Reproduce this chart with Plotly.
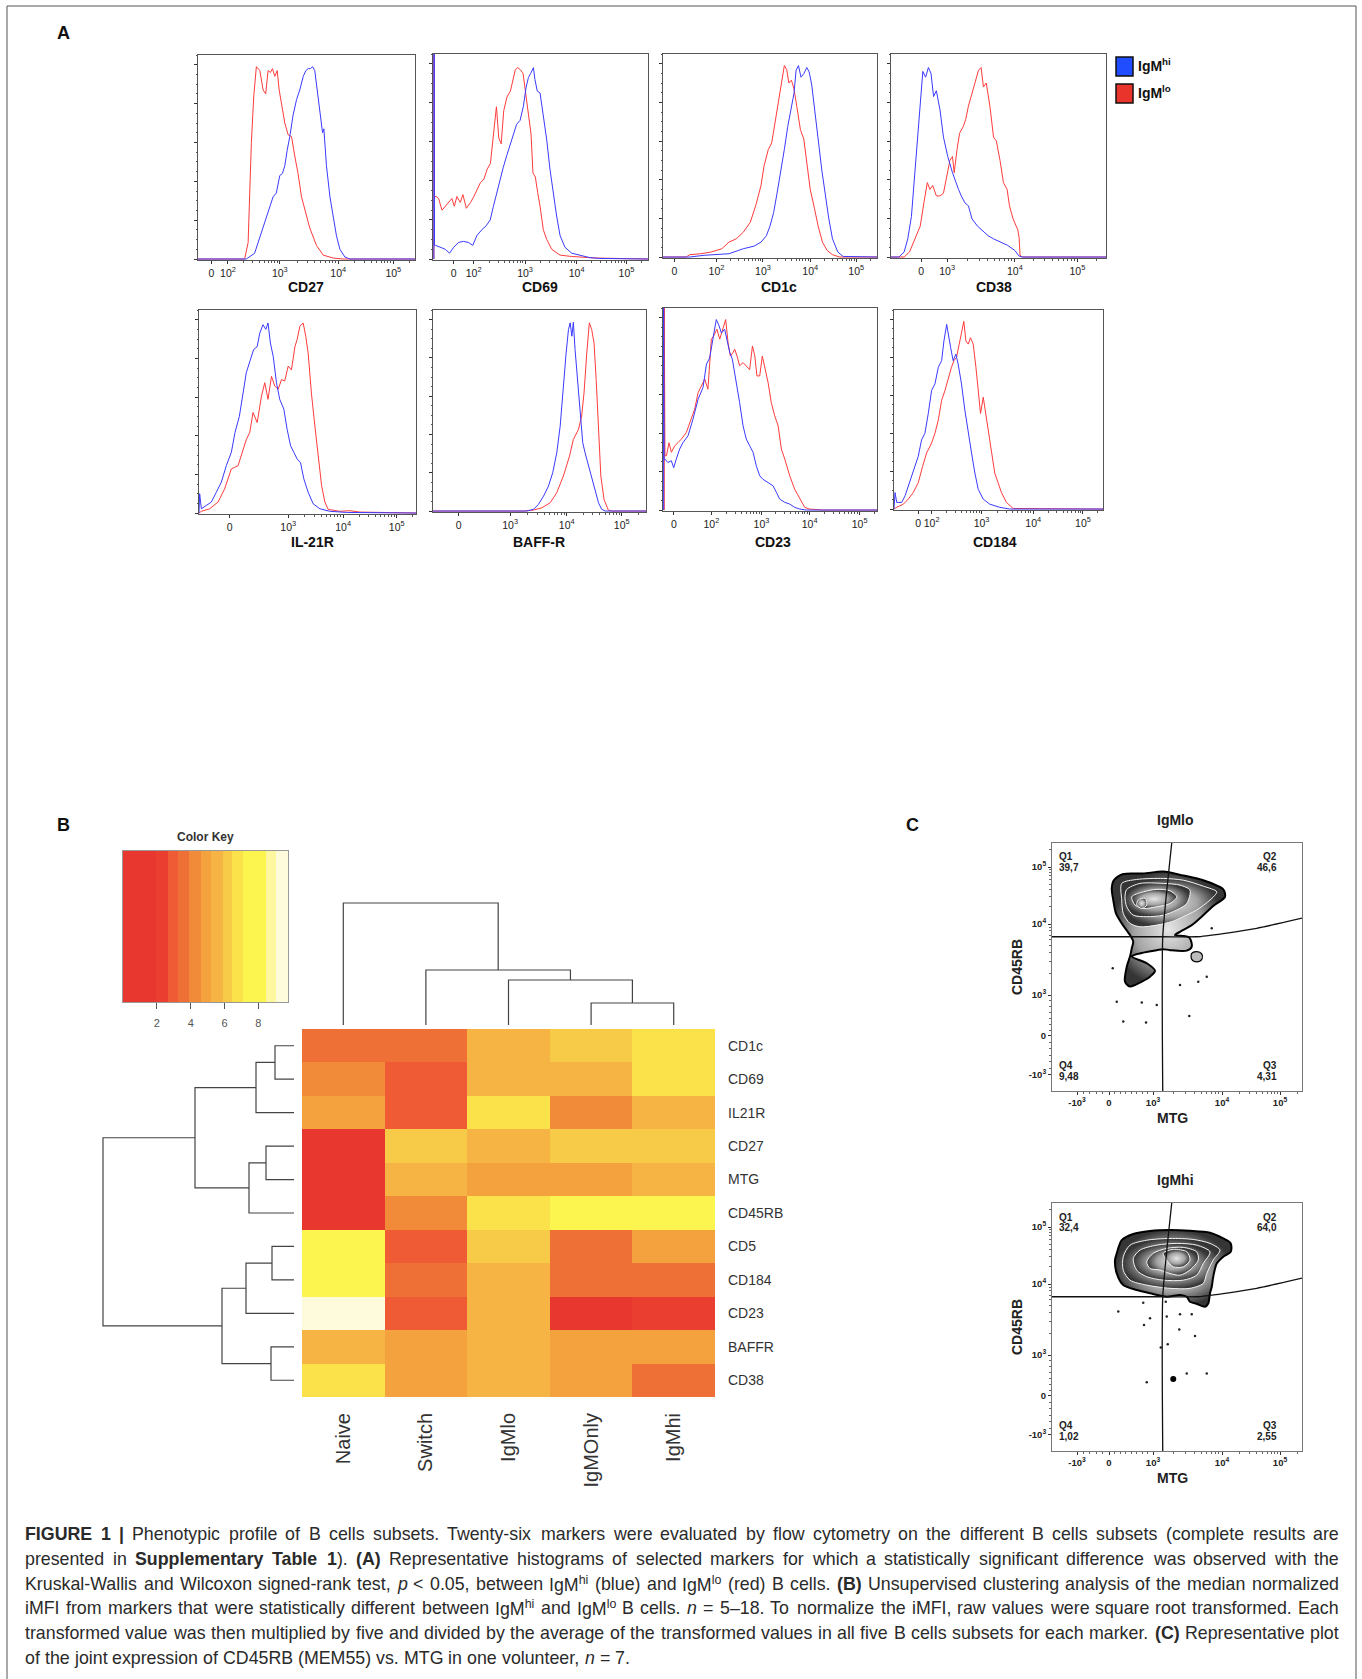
import math
import plotly.graph_objects as go

W, H = 1362, 1679
FONT = "Liberation Sans, Arial, sans-serif"
BLUE = "#3a3aff"
RED = "#ff3b3b"

# ---------------- Panel A: histogram data (x = display channel 0-1000, y = % of max) ----------------
cd27_lo = [(0,0),(215,0),(231,8.5),(246,60),(257,84),(269,99),(285,97),(300,87),(312,85),(323,97),(334,96),(343,98),(354,94),(365,97),(374,87),(385,80),(400,70),(415,64),(431,63),(446,53),(461,44),(477,32),(492,26),(515,16),(546,7),(577,2),(623,0.5),(669,0),(1000,0)]
cd27_hi = [(0,0),(223,0),(261,3),(292,14),(315,21),(331,27),(346,32),(361,34),(377,43),(389,44),(400,48),(411,56),(423,63),(438,74),(454,82),(469,87),(485,94),(497,97),(508,98),(518,98),(528,99),(538,97),(549,87),(561,75),(574,65),(580,67),(592,48),(608,32),(623,21),(638,12),(654,5),(677,1),(700,0),(1000,0)]
cd69_lo = [(4,0),(5,105),(7,32),(15,32),(26,31),(42,25),(57,27),(73,29),(88,31),(99,27),(111,32),(127,29),(139,33),(155,26),(175,29),(190,32),(206,36),(220,39),(237,41),(252,46),(267,49),(283,64),(295,78),(306,62),(317,59),(329,76),(344,83),(360,86),(372,91),(383,97),(394,98),(406,97),(419,95),(429,86),(444,73),(456,64),(465,44),(476,42),(487,34),(498,27),(513,15),(529,10),(552,5),(591,2),(645,1.3),(683,1),(761,0.5),(1000,0)]
cd69_hi = [(4,0),(5,105),(7,7),(12,7),(34,6),(57,5),(77,3),(96,6),(119,8.5),(142,9),(165,8.5),(185,7),(204,12),(227,15),(247,17),(266,20),(281,27),(297,34),(312,42),(327,47),(343,53),(358,58),(374,64),(389,69),(405,71),(420,78),(433,88),(444,93),(454,95),(467,98),(474,92),(485,86),(498,85),(513,73),(529,61),(544,46),(559,34),(575,22),(591,12),(614,6),(645,3),(683,2),(730,0.7),(776,0.3),(1000,0)]
cd1c_lo = [(0,0),(108,0),(125,1.2),(175,1.7),(225,2.6),(275,4.3),(308,7.7),(342,9.4),(375,12.8),(408,18),(433,26.5),(458,37),(472,47),(492,55.6),(508,59),(525,71),(542,83),(555,93),(567,99),(578,97),(588,90),(600,91.5),(612,87),(625,78),(642,66),(658,61),(672,49),(688,35),(708,25),(725,16),(745,7.7),(767,3.4),(792,1.2),(825,0),(1000,0)]
cd1c_hi = [(0,0),(125,0),(192,0.9),(308,1.7),(375,4.3),(425,5.6),(458,7.7),(483,11),(500,16),(517,23),(533,33),(550,43.6),(567,55.6),(583,67.5),(600,78),(612,84.6),(622,96.6),(633,99),(645,93),(658,94.8),(672,98),(683,95.7),(695,89),(708,78),(725,61),(742,45),(758,31.6),(775,19.7),(792,9.4),(817,2.6),(842,0.3),(1000,0)]
cd38_lo = [(0,0),(61,0),(86,2.6),(111,9.4),(136,16),(153,28),(169,38.5),(181,35),(194,37),(211,31.6),(228,31.6),(244,33),(261,43.6),(274,50),(286,52),(294,43.6),(307,55.6),(319,64),(336,67.5),(347,71),(360,78),(377,84.6),(394,91.5),(407,96.6),(419,98),(430,88),(443,90),(460,78),(477,62),(490,60),(507,50),(523,38.5),(540,35),(551,26.5),(568,19.7),(580,17),(590,14),(596,10),(600,1),(610,0),(1000,0)]
cd38_hi = [(0,0),(37,0),(61,2.6),(78,9.4),(95,21),(111,43.6),(125,67.5),(136,83),(148,96),(161,93),(174,98),(186,95),(198,83),(211,86),(228,76),(244,62),(264,52),(286,43.6),(297,40),(314,35),(327,31.6),(344,28),(360,26.5),(377,19.7),(402,16),(427,13.7),(452,11),(477,9.4),(510,7.7),(543,6),(576,3.4),(596,0.5),(610,0),(1000,0)]
il21r_lo = [(0,0),(11,0.9),(49,2.2),(88,5.7),(118,12.5),(149,22.8),(180,24.5),(195,29.7),(218,38),(234,41.7),(249,52),(268,46.8),(288,60.5),(303,67.4),(318,58.8),(334,70.7),(349,65.7),(365,64),(380,69),(395,68.3),(411,76),(426,74),(442,86),(452,89.7),(465,96.6),(480,98.3),(492,91.4),(503,82.8),(518,62),(534,45),(549,29.7),(565,14.2),(580,5.7),(595,1.9),(649,0.9),(695,1.2),(742,0.5),(1000,0)]
il21r_hi = [(0,0),(3,10),(11,2.2),(34,4),(57,5.7),(80,10.8),(103,16),(126,24.5),(149,31.4),(166,41.7),(186,50),(203,62),(218,72.6),(236,79),(252,84.6),(268,86),(280,93),(295,97.4),(308,95),(318,98.3),(329,88),(342,81),(357,67.4),(372,58.8),(391,53.7),(406,43.4),(422,34.8),(437,31.4),(452,28),(468,26),(483,17.7),(503,10.8),(526,4.8),(557,2.2),(603,0.9),(680,0.3),(1000,0)]
baffr_lo = [(0,0),(425,0),(472,0.5),(511,1.7),(550,4.3),(581,9.6),(612,18.3),(641,28.7),(659,37.4),(683,42.6),(698,49.6),(709,61.7),(722,82.6),(734,98.3),(745,94.8),(756,87.8),(766,68.7),(777,40.9),(788,18.3),(803,6),(823,0.5),(839,0),(1000,0)]
baffr_hi = [(0,0),(441,0),(472,0.9),(495,3.5),(519,7.8),(542,13),(562,20),(581,30.4),(597,44.3),(612,67),(625,82.6),(636,94.8),(644,98.3),(652,91.3),(659,98.6),(667,84.3),(678,68.7),(691,53),(703,35.7),(714,30.4),(730,23.5),(745,18.3),(761,11.3),(777,4.3),(792,0.9),(808,0),(1000,0)]
cd23_lo = [(6,0),(6,105),(9,28.2),(16,28.2),(28,35),(39,30),(55,33.4),(70,35),(86,36.9),(109,40.3),(125,45.5),(148,52.4),(164,61),(179,64.5),(195,68),(210,62.8),(226,88.8),(237,90.5),(252,94),(265,88.8),(280,94),(293,99),(304,87),(315,80),(327,81.8),(335,83.6),(346,80),(358,75),(374,76.6),(389,75),(405,73),(418,85.3),(429,80),(439,69.7),(452,69.7),(464,80),(475,75),(491,66.3),(506,55.9),(522,49),(538,43.8),(553,31.7),(569,26.5),(592,17.8),(615,10.9),(639,5.7),(662,1.4),(685,0.5),(717,0.3),(748,0),(1000,0)]
cd23_hi = [(3,0),(3,105),(5,26.5),(9,26.5),(23,24.7),(39,25.6),(50,22),(62,26.5),(78,31.7),(93,35),(117,38.6),(140,47.2),(164,57.6),(187,63.7),(203,75.8),(218,79),(237,90.5),(249,99),(262,95.7),(273,92),(288,94),(299,88.8),(312,81.8),(324,78.4),(343,66.3),(358,55.9),(374,43.8),(389,36.9),(405,33.4),(421,30),(436,23),(452,17.8),(467,16),(491,14.4),(514,12.6),(530,9.2),(545,5.7),(569,4),(592,3.1),(615,1.4),(639,0.5),(670,0),(1000,0)]
cd184_lo = [(0,0),(13,0.9),(45,2.6),(68,5.2),(92,8.7),(116,13.9),(137,22.6),(156,29.6),(180,34.8),(196,40),(212,47),(228,57.4),(244,62.6),(260,69.6),(275,74.8),(287,78.3),(299,80),(312,87),(323,92.2),(334,99),(344,88.7),(355,87),(366,90.4),(379,87),(392,74.8),(403,60.9),(414,50.4),(427,59),(439,50.4),(451,40),(467,29.6),(482,19),(498,13.9),(514,8.7),(538,3.5),(570,0.3),(1000,0)]
cd184_hi = [(0,0),(5,8.7),(13,3.5),(37,3.5),(53,7),(68,12.2),(84,17.4),(100,22.6),(116,27.8),(132,36.5),(148,40),(164,50.4),(180,62.6),(196,66),(212,74.8),(228,78.3),(239,88.7),(252,97.4),(259,92.2),(271,85.2),(283,78.3),(296,81.7),(307,76.5),(323,66),(339,52.2),(355,40),(371,29.6),(387,19),(403,10.4),(427,5.2),(458,2.6),(506,0.9),(554,0),(1000,0)]

hist_markers = ["CD27", "CD69", "CD1c", "CD38", "IL-21R", "BAFF-R", "CD23", "CD184"]
hist_tick_ch = [[62,138,377,646,900],[96,189,428,668,900],[53,250,467,688,903],[140,261,576,867],
                [141,411,664,911],[120,362,628,886],[51,226,460,685,919],[116,180,419,666,904]]
hist_tick_lab = [["0","2","3","4","5"],["0","2","3","4","5"],["0","2","3","4","5"],["0","3","4","5"],
                 ["0","3","4","5"],["0","3","4","5"],["0","2","3","4","5"],["0","2","3","4","5"]]
hist_series = [(cd27_hi, cd27_lo), (cd69_hi, cd69_lo), (cd1c_hi, cd1c_lo), (cd38_hi, cd38_lo),
               (il21r_hi, il21r_lo), (baffr_hi, baffr_lo), (cd23_hi, cd23_lo), (cd184_hi, cd184_lo)]

# ---------------- Panel B: heatmap ----------------
subsets = ["Naive", "Switch", "IgMlo", "IgMOnly", "IgMhi"]
markers_b = ["CD1c", "CD69", "IL21R", "CD27", "MTG", "CD45RB", "CD5", "CD184", "CD23", "BAFFR", "CD38"]
row_CD1c   = [3.6, 3.6, 5.5, 6.2, 6.8]
row_CD69   = [4.3, 2.9, 5.5, 5.5, 6.8]
row_IL21R  = [4.9, 2.9, 6.8, 4.3, 5.5]
row_CD27   = [1.0, 6.2, 5.5, 6.2, 6.2]
row_MTG    = [1.0, 5.5, 4.9, 4.9, 5.5]
row_CD45RB = [1.0, 4.3, 6.8, 7.8, 7.8]
row_CD5    = [7.8, 2.9, 6.2, 3.6, 4.9]
row_CD184  = [7.8, 3.6, 5.5, 3.6, 3.6]
row_CD23   = [9.4, 2.9, 5.5, 1.0, 2.3]
row_BAFFR  = [5.5, 4.9, 5.5, 4.9, 4.9]
row_CD38   = [6.8, 4.9, 5.5, 4.9, 3.6]
key_breaks = [0, 1.96, 2.65, 3.24, 3.92, 4.6, 5.2, 5.88, 6.47, 7.1, 8.43, 9.06, 9.75]
key_colors = ["#E8372F", "#EA3F30", "#EE5B34", "#EF7037", "#F18A39", "#F3A23D",
              "#F5B443", "#F7CA47", "#FBE24A", "#FCF550", "#FDF7A0", "#FEFBDC"]
key_ticks = [2, 4, 6, 8]
row_merges = [(0,1,19),(11,2,38),(3,4,28),(13,5,45),(12,14,99),(6,7,22),(16,8,48),(9,10,23),(17,18,72),(15,19,191)]
col_merges = [(3,4,22),(2,5,45),(1,6,55),(0,7,122)]

# ---------------- Panel C: CD45RB vs MTG (channel units 0-1000) ----------------
c_xtick_ch = [100, 228, 404, 680, 912]
c_xtick_lab = ["-10<sup>3</sup>", "0", "10<sup>3</sup>", "10<sup>4</sup>", "10<sup>5</sup>"]
c_ytick_ch = [65, 222, 387, 673, 903]
c_ytick_lab = ["-10<sup>3</sup>", "0", "10<sup>3</sup>", "10<sup>4</sup>", "10<sup>5</sup>"]
gate_vertical = [(443,0),(443,622),(479,1000)]
gate_horizontal = [(0,622),(443,622),(579,622),(685,635),(819,656),(1000,697)]
lo_quadrants = ["39,7", "46,6", "4,31", "9,48"]
hi_quadrants = ["32,4", "64,0", "2,55", "1,02"]
lo_levels = [
    [(248,850),(285,875),(365,877),(445,885),(525,869),(605,850),(685,813),(692,783),(645,746),(605,709),(559,669),(512,642),(492,629),(549,619),(559,582),(539,566),(472,568),(445,572),(419,568),(365,558),(339,552),(319,542),(379,515),(412,485),(392,461),(359,441),(312,421),(292,441),(299,501),(312,542),(319,575),(325,602),(312,629),(279,676),(256,716),(245,770),(239,817)],
    [(279,837),(339,853),(445,857),(525,850),(605,826),(659,803),(632,770),(579,730),(525,703),(479,683),(419,669),(352,662),(312,676),(285,716),(279,770)],
    [(299,813),(352,837),(445,837),(512,830),(552,810),(539,756),(499,730),(445,709),(379,703),(325,709),(299,743),(292,783)],
    [(319,783),(365,803),(419,813),(472,807),(499,783),(472,756),(419,743),(365,736),(332,750)],
    [(345,770),(372,777),(379,750),(359,736),(339,750)],
]
lo_small_blob = [(559,555),(579,562),(599,553),(599,531),(579,521),(559,531)]
lo_dots_x = [243,259,359,419,285,376,512,549,585,619,639]
lo_dots_y = [495,360,357,347,280,276,427,302,441,461,656]
hi_levels = [
    [(259,797),(279,850),(325,875),(392,887),(472,891),(552,888),(632,880),(685,857),(715,837),(715,803),(685,783),(659,756),(645,703),(639,662),(632,636),(625,595),(612,582),(579,593),(552,602),(539,622),(512,629),(459,622),(392,636),(339,649),(285,669),(259,716),(252,770)],
    [(285,783),(312,830),(379,850),(472,857),(565,853),(632,837),(672,810),(645,770),(619,716),(605,676),(552,656),(472,656),(379,669),(312,689),(285,729)],
    [(325,776),(352,810),(419,830),(499,837),(579,830),(632,803),(605,756),(579,709),(525,689),(445,689),(379,703),(339,729)],
    [(379,763),(405,797),(459,817),(525,821),(579,803),(585,770),(552,730),(512,709),(472,716),(432,730),(392,736)],
    [(445,797),(485,813),(539,803),(552,770),(525,743),(485,743),(459,770)],
]
hi_dots_x = [365,265,392,368,455,459,512,559,509,572,435,463,539,619,379]
hi_dots_y = [598,562,535,508,602,542,551,551,490,464,417,430,313,313,277]
hi_big_dot = (485, 290)

# ---------------- caption (one token list per printed line) ----------------
caption_lines = [
    "<b>FIGURE</b> <b>1</b> <b>|</b> Phenotypic profile of B cells subsets. Twenty-six markers were evaluated by flow cytometry on the different B cells subsets (complete results are",
    "presented in <b>Supplementary</b> <b>Table</b> <b>1</b>). <b>(A)</b> Representative histograms of selected markers for which a statistically significant difference was observed with the",
    "Kruskal-Wallis and Wilcoxon signed-rank test, <i>p</i> &lt; 0.05, between IgM<sup>hi</sup> (blue) and IgM<sup>lo</sup> (red) B cells. <b>(B)</b> Unsupervised clustering analysis of the median normalized",
    "iMFI from markers that were statistically different between IgM<sup>hi</sup> and IgM<sup>lo</sup> B cells. <i>n</i> = 5–18. To normalize the iMFI, raw values were square root transformed. Each",
    "transformed value was then multiplied by five and divided by the average of the transformed values in all five B cells subsets for each marker. <b>(C)</b> Representative plot",
    "of the joint expression of CD45RB (MEM55) vs. MTG in one volunteer, <i>n</i> = 7.",
]

# ============================ build ============================
fig = go.Figure()
layout = {}
annots = []
shapes = []
count = [0]


def new_axes(x0, y0, x1, y1, xkw, ykw):
    count[0] += 1
    n = count[0]
    s = "" if n == 1 else str(n)
    layout["xaxis" + s] = dict(domain=[x0 / W, x1 / W], anchor="y" + s, **xkw)
    layout["yaxis" + s] = dict(domain=[1 - y1 / H, 1 - y0 / H], anchor="x" + s, **ykw)
    return "x" + s, "y" + s


def text(x, y, s, size, bold=False, xanchor="center", yanchor="middle", color="#222", angle=0, pad=1):
    annots.append(dict(x=x / W, y=1 - y / H, xref="paper", yref="paper",
                       text=("<b>%s</b>" % s) if bold else s, showarrow=False,
                       xanchor=xanchor, yanchor=yanchor, textangle=angle, borderpad=pad,
                       font=dict(size=size, color=color, family=FONT)))


def log_minors(majors):
    out = []
    for a, b in zip(majors[:-1], majors[1:]):
        for k in range(2, 10):
            out.append(a + (b - a) * math.log10(k))
    d = majors[-1] - majors[-2]
    out.append(majors[-1] + d * math.log10(2))
    return out


# ---- Panel A ----
hist_boxes = [(198, 55, 415, 260), (433, 54, 648, 260), (663, 54, 877, 258), (891, 54, 1106, 258),
              (199, 310, 416, 514), (433, 310, 646, 512), (663, 308, 877, 511), (894, 310, 1103, 510)]
hist_label_x = [306, 540, 779, 994, 312, 539, 773, 995]
for i, name in enumerate(hist_markers):
    x0, y0, x1, y1 = hist_boxes[i]
    ticks = hist_tick_ch[i]
    labs = [("10<sup>%s</sup>" % l) if l != "0" else "0" for l in hist_tick_lab[i]]
    decade_ticks = [t for t, l in zip(ticks, hist_tick_lab[i]) if l != "0"]
    xkw = dict(range=[0, 1000], tickmode="array", tickvals=ticks, ticktext=labs,
               ticks="outside", ticklen=3, tickcolor="#333",
               tickfont=dict(size=10.5, color="#222", family=FONT),
               showline=True, linecolor="#555", linewidth=1, mirror=True,
               showgrid=False, zeroline=False, layer="below traces",
               minor=dict(tickmode="array", tickvals=log_minors(decade_ticks), ticks="outside",
                          ticklen=2, tickcolor="#555"))
    ykw = dict(range=[-0.5, 105], tickmode="array", tickvals=[0, 20, 40, 60, 80, 100],
               showticklabels=False, ticks="outside", ticklen=3, tickcolor="#333",
               showline=True, linecolor="#555", linewidth=1, mirror=True,
               showgrid=False, zeroline=False, layer="below traces",
               minor=dict(tickmode="linear", tick0=0, dtick=5, ticks="outside", ticklen=1.5,
                          tickcolor="#555"))
    xa, ya = new_axes(x0, y0, x1, y1, xkw, ykw)
    hi, lo = hist_series[i]
    fig.add_trace(go.Scatter(x=[p[0] for p in lo], y=[p[1] for p in lo], mode="lines",
                             line=dict(color=RED, width=1), xaxis=xa, yaxis=ya, hoverinfo="skip"))
    fig.add_trace(go.Scatter(x=[p[0] for p in hi], y=[p[1] for p in hi], mode="lines",
                             line=dict(color=BLUE, width=1), xaxis=xa, yaxis=ya, hoverinfo="skip"))
    ylab = 287 if i < 4 else 542
    text(hist_label_x[i], ylab, name, 14, bold=True, color="#111")

shapes.append(dict(type="rect", xref="paper", yref="paper", x0=1116 / W, x1=1133 / W,
                   y0=1 - 76 / H, y1=1 - 57 / H, fillcolor="#1f4dff", line=dict(color="#111", width=1.5)))
shapes.append(dict(type="rect", xref="paper", yref="paper", x0=1116 / W, x1=1133 / W,
                   y0=1 - 103 / H, y1=1 - 84 / H, fillcolor="#e8342a", line=dict(color="#111", width=1.5)))
text(1136, 65, "IgM<sup>hi</sup>", 14, bold=True, xanchor="left", color="#111")
text(1136, 92, "IgM<sup>lo</sup>", 14, bold=True, xanchor="left", color="#111")

# ---- Panel B ----
zmax = key_breaks[-1]
cscale = []
for j, c in enumerate(key_colors):
    cscale.append([key_breaks[j] / zmax, c])
    cscale.append([key_breaks[j + 1] / zmax, c])

key_mid = [(a + b) / 2 for a, b in zip(key_breaks[:-1], key_breaks[1:])]
xa, ya = new_axes(123, 851, 288, 1002,
                  dict(range=[0, zmax], tickmode="array", tickvals=key_ticks, ticks="outside",
                       ticklen=6, tickcolor="#555", tickfont=dict(size=11, color="#555", family=FONT),
                       ticklabelstandoff=5,
                       showline=True, linecolor="#999", mirror=True, showgrid=False, zeroline=False),
                  dict(range=[-0.5, 0.5], showticklabels=False, ticks="", showline=True,
                       linecolor="#999", mirror=True, showgrid=False, zeroline=False))
fig.add_trace(go.Heatmap(z=[key_mid], x=key_breaks, y=[0], colorscale=cscale, zmin=0, zmax=zmax,
                         showscale=False, xaxis=xa, yaxis=ya, hoverinfo="skip"))
text(205, 837, "Color Key", 12, bold=True, color="#333")

heat_rows = [row_CD1c, row_CD69, row_IL21R, row_CD27, row_MTG, row_CD45RB, row_CD5, row_CD184,
             row_CD23, row_BAFFR, row_CD38]
xa, ya = new_axes(302, 1029, 715, 1397,
                  dict(type="category", ticks="", tickangle=-90, showline=False, showgrid=False,
                       zeroline=False, tickfont=dict(size=20, color="#333", family=FONT),
                       ticklabelstandoff=11),
                  dict(type="category", autorange="reversed", side="right", ticks="", showline=False,
                       showgrid=False, zeroline=False, tickfont=dict(size=14, color="#333", family=FONT),
                       ticklabelstandoff=12))
fig.add_trace(go.Heatmap(z=heat_rows, x=subsets, y=markers_b, colorscale=cscale, zmin=0, zmax=zmax,
                         showscale=False, xaxis=xa, yaxis=ya, hoverinfo="skip"))


def dendro(merges, n):
    pos = {i: float(i) for i in range(n)}
    hgt = {i: 0.0 for i in range(n)}
    ps, hs = [], []
    for k, (a, b, h) in enumerate(merges):
        ps += [pos[a], pos[a], pos[b], pos[b], None]
        hs += [hgt[a], h, h, hgt[b], None]
        pos[n + k] = (pos[a] + pos[b]) / 2
        hgt[n + k] = h
    return ps, hs


hidden = dict(visible=False, showgrid=False, zeroline=False)
xa, ya = new_axes(98, 1029, 294, 1397, dict(range=[196, 0], **hidden), dict(range=[10.5, -0.5], **hidden))
ps, hs = dendro(row_merges, len(markers_b))
fig.add_trace(go.Scatter(x=hs, y=ps, mode="lines", line=dict(color="#444", width=1.2),
                         xaxis=xa, yaxis=ya, hoverinfo="skip"))
xa, ya = new_axes(302, 900, 715, 1025, dict(range=[-0.5, 4.5], **hidden), dict(range=[0, 125], **hidden))
ps, hs = dendro(col_merges, len(subsets))
fig.add_trace(go.Scatter(x=ps, y=hs, mode="lines", line=dict(color="#444", width=1.2),
                         xaxis=xa, yaxis=ya, hoverinfo="skip"))

# ---- Panel C ----
def lin_minors(a, b, n):
    return [a + (b - a) * k / n for k in range(1, n)]


c_xminor = lin_minors(100, 228, 5) + lin_minors(228, 404, 8) + log_minors(c_xtick_ch[2:])
c_yminor = lin_minors(65, 222, 6) + lin_minors(222, 387, 7) + log_minors(c_ytick_ch[2:])


def c_axes(top, quads, levels, dots_x, dots_y, extra_blob=None, big_dot=None, title=""):
    x0, x1, y0, y1 = 1052, 1302, top, top + 248
    xkw = dict(range=[0, 1000], tickmode="array", tickvals=c_xtick_ch,
               ticktext=["<b>%s</b>" % t for t in c_xtick_lab], ticks="outside", ticklen=3,
               tickcolor="#333", tickfont=dict(size=9.5, color="#222", family=FONT),
               showline=True, linecolor="#777", mirror=True, showgrid=False, zeroline=False,
               minor=dict(tickmode="array", tickvals=c_xminor, ticks="outside", ticklen=2,
                          tickcolor="#666"))
    ykw = dict(range=[0, 1000], tickmode="array", tickvals=c_ytick_ch,
               ticktext=["<b>%s</b>" % t for t in c_ytick_lab], ticks="outside", ticklen=3,
               tickcolor="#333", tickfont=dict(size=9.5, color="#222", family=FONT),
               showline=True, linecolor="#777", mirror=True, showgrid=False, zeroline=False,
               minor=dict(tickmode="array", tickvals=c_yminor, ticks="outside", ticklen=2,
                          tickcolor="#666"))
    xa, ya = new_axes(x0, y0, x1, y1, xkw, ykw)
    for li, poly in enumerate(levels):
        xs = [p[0] for p in poly] + [poly[0][0]]
        ys = [p[1] for p in poly] + [poly[0][1]]
        lc = "#000" if li == 0 else "#f4f4f4"
        lw = 2 if li == 0 else 1
        fig.add_trace(go.Scatter(x=xs, y=ys, mode="lines", fill="toself", fillcolor="#888",
                                 fillgradient=dict(type="radial",
                                                   colorscale=[[0, "#e6e6e6"], [0.6, "#a4a4a4"], [1, "#353535"]]),
                                 line=dict(color=lc, width=lw, shape="spline", smoothing=0.8),
                                 xaxis=xa, yaxis=ya, hoverinfo="skip"))
    if extra_blob:
        xs = [p[0] for p in extra_blob] + [extra_blob[0][0]]
        ys = [p[1] for p in extra_blob] + [extra_blob[0][1]]
        fig.add_trace(go.Scatter(x=xs, y=ys, mode="lines", fill="toself", fillcolor="#bbb",
                                 line=dict(color="#000", width=1.2, shape="spline"),
                                 xaxis=xa, yaxis=ya, hoverinfo="skip"))
    fig.add_trace(go.Scatter(x=dots_x, y=dots_y, mode="markers", marker=dict(color="#222", size=2.5),
                             xaxis=xa, yaxis=ya, hoverinfo="skip"))
    if big_dot:
        fig.add_trace(go.Scatter(x=[big_dot[0]], y=[big_dot[1]], mode="markers",
                                 marker=dict(color="#000", size=6), xaxis=xa, yaxis=ya, hoverinfo="skip"))
    for g in (gate_vertical, gate_horizontal):
        fig.add_trace(go.Scatter(x=[p[0] for p in g], y=[p[1] for p in g], mode="lines",
                                 line=dict(color="#111", width=1.3, shape="spline", smoothing=0.5),
                                 xaxis=xa, yaxis=ya, hoverinfo="skip"))
    text(1175, top - 23, title, 14, bold=True, color="#222")
    text(1172, top + 275, "MTG", 14, bold=True, color="#222")
    text(1017, top + 124, "CD45RB", 14, bold=True, color="#222", angle=-90)
    q1, q2, q3, q4 = quads
    text(1057, top + 14, "Q1", 10, bold=True, xanchor="left")
    text(1057, top + 24, q1, 10, bold=True, xanchor="left")
    text(1279, top + 14, "Q2", 10, bold=True, xanchor="right")
    text(1279, top + 24, q2, 10, bold=True, xanchor="right")
    text(1057, top + 222, "Q4", 10, bold=True, xanchor="left")
    text(1057, top + 233, q4, 10, bold=True, xanchor="left")
    text(1279, top + 222, "Q3", 10, bold=True, xanchor="right")
    text(1279, top + 233, q3, 10, bold=True, xanchor="right")


c_axes(843, lo_quadrants, lo_levels, lo_dots_x, lo_dots_y, extra_blob=lo_small_blob, title="IgMlo")
c_axes(1203, hi_quadrants, hi_levels, hi_dots_x, hi_dots_y, big_dot=hi_big_dot, title="IgMhi")

text(63, 33, "A", 18, bold=True, color="#111")
text(63, 825, "B", 18, bold=True, color="#111")
text(912, 825, "C", 18, bold=True, color="#111")

# ---- caption: justified lines built word by word (Arial-compatible metrics) ----
REG_W = {}
for chars, w in [(" ", 278), ("!,./:;fIt[]", 278), ("ijl", 222), ("r()-", 333), ("*", 389),
                 ("+<=>", 584), ("0123456789#$?_abdeghnopquL", 556), ("ckvxyzsJ", 500),
                 ("ABEKPSVXY", 667), ("CDHNRUw", 722), ("FTZ", 611), ("GOQ", 778), ("M", 833),
                 ("m", 833), ("W", 944), ("%", 889), ("|", 260), ("–", 556), ("'", 191)]:
    for ch in chars:
        REG_W[ch] = w
BOLD_W = {}
for chars, w in [(" .,", 278), ("()", 333), ("|", 280), ("0123456789aecsyxvk", 556), ("bdghnopqu", 611),
                 ("iljI", 278), ("rf", 389), ("t", 333), ("m", 889), ("w", 778), ("z", 500),
                 ("ABCDHKNRU", 722), ("EPSVXY", 667), ("FTZL", 611), ("GOQ", 778), ("M", 833), ("J", 556)]:
    for ch in chars:
        BOLD_W[ch] = w


def markup_width(tok, size):
    w, bold, sup, i = 0.0, False, False, 0
    while i < len(tok):
        matched = False
        for tag, attr, val in (("<b>", "b", True), ("</b>", "b", False), ("<i>", "i", True),
                               ("</i>", "i", False), ("<sup>", "s", True), ("</sup>", "s", False)):
            if tok.startswith(tag, i):
                if attr == "b":
                    bold = val
                elif attr == "s":
                    sup = val
                i += len(tag)
                matched = True
                break
        if matched:
            continue
        if tok.startswith("&lt;", i):
            ch = "<"
            i += 4
        else:
            ch = tok[i]
            i += 1
        table = BOLD_W if bold else REG_W
        w += table.get(ch, 556) / 1000.0 * size * (0.7 if sup else 1.0)
    return w


CAP_SIZE = 17.8
CAP_LEFT, CAP_RIGHT = 24, 1338
for k, line in enumerate(caption_lines):
    words = line.split(" ")
    widths = [markup_width(wd, CAP_SIZE) for wd in words]
    if k < len(caption_lines) - 1:
        gap = (CAP_RIGHT - CAP_LEFT - sum(widths)) / (len(words) - 1)
    else:
        gap = 0.278 * CAP_SIZE
    xpos = CAP_LEFT
    ypos = 1534 + 24.8 * k
    for wd, ww in zip(words, widths):
        text(xpos, ypos, wd, CAP_SIZE, xanchor="left", color="#2a2a2a", pad=0)
        xpos += ww + gap

shapes.append(dict(type="rect", xref="paper", yref="paper", x0=7 / W, x1=1356 / W,
                   y0=1 - 1700 / H, y1=1 - 6 / H, line=dict(color="#555", width=1)))

layout.update(dict(width=W, height=H, margin=dict(l=0, r=0, t=0, b=0), paper_bgcolor="white",
                   plot_bgcolor="white", showlegend=False, annotations=annots, shapes=shapes,
                   font=dict(family=FONT)))
fig.update_layout(**layout)
fig.write_html("out.html", config={"displayModeBar": False},
               post_script="document.body.style.margin='0px';")
